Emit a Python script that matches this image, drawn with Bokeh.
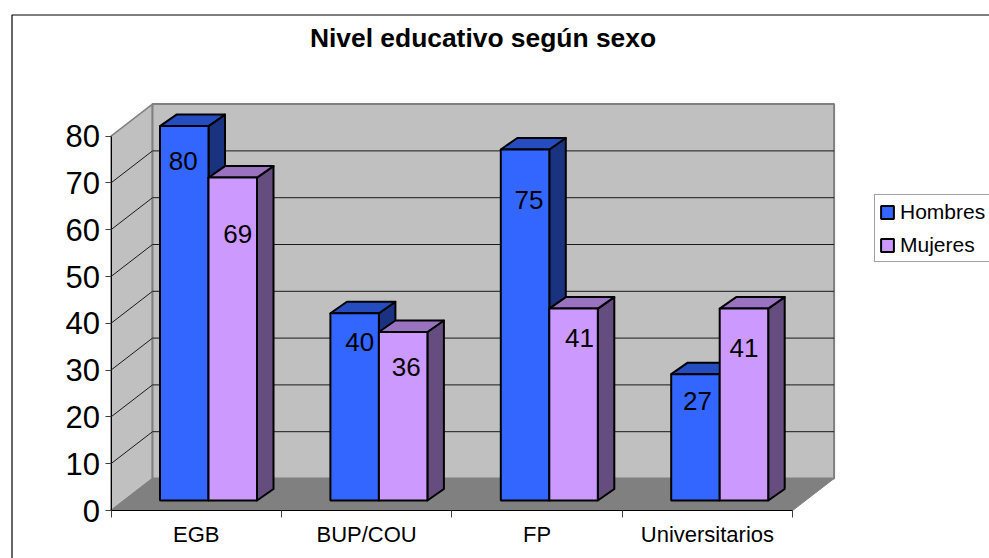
from bokeh.plotting import figure
from bokeh.embed import file_html
from bokeh.resources import INLINE
from bokeh.core.properties import value
from bokeh.models import (BoxAnnotation, ColumnDataSource, FixedTicker, Label, Legend, LegendItem,
                          LinearAxis)

title = "Nivel educativo según sexo"
categories = ["EGB", "BUP/COU", "FP", "Universitarios"]
hombres = [80, 40, 75, 27]
mujeres = [69, 36, 41, 41]
y_ticks = [0, 10, 20, 30, 40, 50, 60, 70, 80]

# label nudges in pixels
h_dx = [-1, 5, 4, 2]
h_dy = [35, 29, 50, 27]
m_dx = [5, 3, 6, 0]
m_dy = [56, 35, 29, 39]

FONT = "Liberation Sans"
W, H = 989, 558
ORIGIN_X, ORIGIN_Y = 110.5, 510
CAT_PX, VAL_PX = 170.4, 4.68

p = figure(width=W, height=H, output_backend="svg", toolbar_location=None,
           x_range=(-ORIGIN_X / CAT_PX, (W - ORIGIN_X) / CAT_PX),
           y_range=(-(H - ORIGIN_Y) / VAL_PX, ORIGIN_Y / VAL_PX),
           x_axis_location=None, y_axis_location=None,
           min_border=0, outline_line_color=None,
           background_fill_color="white", border_fill_color="white")
p.grid.visible = False

# 3-D projection parameters, turned into data units
WDX, WDY = 41.5 / CAT_PX, 32 / VAL_PX       # wall depth
BDX, BDY = 16.5 / CAT_PX, 11.5 / VAL_PX     # bar depth
BASE = 10 / VAL_PX                          # bars stand on the floor, this far up
OFF, BW = 49 / CAT_PX, 48.5 / CAT_PX
n = len(categories)
top = y_ticks[-1]

# walls and floor
p.patch([0, WDX, WDX, 0], [0, WDY, top + WDY, top], fill_color="#C0C0C0", line_color="#808080", line_width=1.5)
p.patch([WDX, n + WDX, n + WDX, WDX], [WDY, WDY, top + WDY, top + WDY], fill_color="#C0C0C0",
        line_color="#808080", line_width=2)
p.patch([0, n, n + WDX, WDX], [0, 0, WDY, WDY], fill_color="#808080", line_color="#808080")

# gridlines on both walls
inner = y_ticks[1:-1]
p.multi_line([[WDX, n + WDX] for v in inner], [[v + WDY, v + WDY] for v in inner], line_color="#1a1a1a", line_width=1)
p.multi_line([[0, WDX] for v in inner], [[v, v + WDY] for v in inner], line_color="#1a1a1a", line_width=1)

LW = 2
series = [(hombres, "#3366FF", "#264DBF", "#1A3380", 0), (mujeres, "#CC99FF", "#9973BF", "#664D80", 1)]
front = {}
for i in range(n):
    for vals, c_front, c_top, c_side, k in series:
        x0 = i + OFF + k * BW
        x1 = x0 + BW
        y1 = vals[i] + BASE
        p.patch([x1, x1 + BDX, x1 + BDX, x1], [BASE, BASE + BDY, y1 + BDY, y1],
                fill_color=c_side, line_color="black", line_width=LW, line_join="round")
        p.patch([x0, x1, x1 + BDX, x0 + BDX], [y1, y1, y1 + BDY, y1 + BDY],
                fill_color=c_top, line_color="black", line_width=LW, line_join="round")
        r = p.quad(left=[x0], right=[x1], bottom=[BASE], top=[y1],
                   fill_color=c_front, line_color="black", line_width=LW)
        front.setdefault(k, r)

# data labels
xs = [i + OFF + BW / 2 for i in range(n)] + [i + OFF + 1.5 * BW for i in range(n)]
ys = [v + BASE for v in hombres] + [v + BASE for v in mujeres]
src = ColumnDataSource(dict(x=xs, y=ys, t=[str(v) for v in hombres + mujeres],
                            dx=h_dx + m_dx, dy=h_dy + m_dy))
p.text("x", "y", text="t", x_offset="dx", y_offset="dy", source=src, text_align="center",
       text_baseline="middle", text_font=value(FONT), text_font_size="26px", text_color="black")

# axes, fixed on the front corner of the box
ya = LinearAxis(ticker=FixedTicker(ticks=y_ticks), bounds=(0, top), fixed_location=0)
ya.axis_line_color = "black"
ya.major_tick_line_color = "#404040"
ya.major_tick_in = 0
ya.major_tick_out = 6
ya.minor_tick_line_color = None
ya.major_label_text_font = FONT
ya.major_label_text_font_size = "31px"
ya.major_label_text_color = "black"
ya.major_label_standoff = 5
p.add_layout(ya, "left")

centers = [i + 0.5 for i in range(n)]
xa = LinearAxis(ticker=FixedTicker(ticks=centers, minor_ticks=list(range(n + 1))), bounds=(0, n), fixed_location=0)
xa.axis_line_color = "black"
xa.major_tick_line_color = None
xa.major_tick_in = 0
xa.major_tick_out = 0
xa.minor_tick_line_color = "#404040"
xa.minor_tick_in = 0
xa.minor_tick_out = 7
xa.major_label_overrides = {c: t for c, t in zip(centers, categories)}
xa.major_label_text_font = FONT
xa.major_label_text_font_size = "22px"
xa.major_label_text_color = "black"
xa.major_label_standoff = 4
p.add_layout(xa, "below")

# title
p.add_layout(Label(x=482.5, y=H - 37.5, x_units="screen", y_units="screen", text=title,
                   text_font=FONT, text_font_size="26.4px", text_font_style="bold", text_color="black",
                   text_align="center", text_baseline="middle"))

# legend, placed by pixels within the frame
legend = Legend(items=[LegendItem(label="Hombres", renderers=[front[0]]),
                       LegendItem(label="Mujeres", renderers=[front[1]])],
                location=(874, H - 262), orientation="vertical",
                label_text_font=FONT, label_text_font_size="21px", label_text_color="black",
                label_standoff=5, label_height=25, glyph_width=16, glyph_height=16,
                spacing=8, padding=4, margin=0, border_line_color="#404040", border_line_width=1,
                background_fill_color="white", background_fill_alpha=1)
p.add_layout(legend)

# chart frame, running off the page to the right and the bottom
p.add_layout(BoxAnnotation(left=11.5, right=W + 50, top=H - 14.5, bottom=-50,
                           left_units="screen", right_units="screen", top_units="screen", bottom_units="screen",
                           fill_alpha=0, line_color="black", line_width=1.2, line_alpha=1))

open("out.html", "w").write(file_html(p, INLINE))
